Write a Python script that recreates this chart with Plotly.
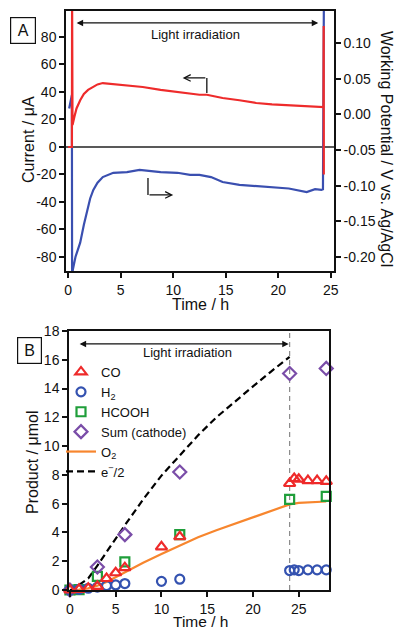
import plotly.graph_objects as go

W, H = 395, 629

# ---------------- Panel A data ----------------
cur_t = [0, 0.36, 0.38, 0.42, 0.6, 0.8, 1.15, 1.5, 1.9, 2.4, 2.8, 3.3, 4.3, 5.6, 7.1, 8.8,
         10.4, 12.5, 13.2, 14.7, 16.3, 17.9, 19.4, 21.0, 22.7, 24.2, 24.3, 24.32, 24.33]
cur_v = [0, 0, 110, 16, 22, 28, 34, 38.5, 41.5, 43.6, 45.5, 46.5, 45.8, 45, 43.6, 41.5,
         40, 38, 38, 35.6, 34, 32, 31, 30.5, 29.8, 29, 29, 88, -20]
pot_t = [0.1, 0.2, 0.3, 0.36, 0.38, 0.45, 0.7, 1.15, 1.5, 1.8, 2.1, 2.4, 2.8, 3.3, 4.3,
         5.6, 6.8, 8.8, 10.4, 11.6, 12.5, 13.6, 14.7, 16.3, 17.9, 19.4, 21.0, 22.7, 23.5,
         24.1, 24.25, 24.35]
pot_v = [0.008, 0.018, 0.025, 0.027, -0.25, -0.218, -0.2, -0.18, -0.155, -0.134, -0.118,
         -0.106, -0.096, -0.088, -0.082, -0.081, -0.078, -0.081, -0.082, -0.085, -0.085,
         -0.088, -0.095, -0.099, -0.101, -0.103, -0.104, -0.109, -0.105, -0.106, -0.105, 0.2]

a_xticks = [0, 5, 10, 15, 20, 25]
a_cur_ticks = [-80, -60, -40, -20, 0, 20, 40, 60, 80]
a_cur_text = ["-80", "-60", "-40", "-20", "0", "20", "40", "60", "80"]
a_pot_ticks = [-0.20, -0.15, -0.10, -0.05, 0.00, 0.05, 0.10]
a_pot_text = ["-0.20", "-0.15", "-0.10", "-0.05", "0.00", "0.05", "0.10"]

# ---------------- Panel B data ----------------
co_t = [0, 1, 2, 3, 4, 5, 6, 10, 12, 24, 24.5, 25, 26, 27, 28]
co_v = [0, 0.05, 0.12, 0.25, 0.8, 1.2, 1.55, 3.0, 3.7, 7.4, 7.75, 7.7, 7.6, 7.6, 7.55]
h2_t = [0, 1, 2, 3, 4, 5, 6, 10, 12, 24, 24.5, 25, 26, 27, 28]
h2_v = [0, 0.05, 0.12, 0.2, 0.3, 0.35, 0.45, 0.6, 0.75, 1.35, 1.4, 1.35, 1.4, 1.4, 1.4]
hcooh_t = [0, 1, 3, 6, 12, 24, 28]
hcooh_v = [0, 0.03, 0.95, 1.95, 3.85, 6.3, 6.5]
sum_t = [0, 3, 6, 12, 24, 28]
sum_v = [0, 1.6, 3.85, 8.2, 15.05, 15.4]
o2_t = [0, 1, 2, 3, 4, 5, 6, 8, 10, 12, 14, 16, 18, 20, 22, 24, 25, 26, 27, 28]
o2_v = [0, 0.03, 0.12, 0.3, 0.55, 0.9, 1.25, 1.9, 2.5, 3.1, 3.67, 4.15, 4.6, 5.0, 5.5,
        5.95, 6.05, 6.1, 6.13, 6.15]
e_t = [0, 0.5, 1, 2, 3, 4, 5, 6, 7, 8, 10, 12, 14, 16, 18, 20, 22, 24]
e_v = [0, 0.05, 0.35, 0.8, 1.7, 2.65, 3.6, 4.5, 5.4, 6.3, 7.95, 9.35, 10.75, 12.0, 13.1,
       14.15, 15.2, 16.2]
b_xticks = [0, 5, 10, 15, 20, 25]
b_yticks = [0, 2, 4, 6, 8, 10, 12, 14, 16, 18]

FONT = "Liberation Sans, Arial, Helvetica, sans-serif"
RED_A = "#ee2b2b"
BLUE_A = "#3a4fb0"
RED = "#ee2a2a"
BLUE = "#3452b0"
GREEN = "#1f9e3a"
PURPLE = "#7a4da8"
ORANGE = "#f7862e"
INK = "#111"

fig = go.Figure()

# Panel A: potential (main, right) first, current (overlay, left) on top
fig.add_trace(go.Scatter(x=pot_t, y=pot_v, mode="lines", line=dict(color=BLUE_A, width=2.2),
                         xaxis="x", yaxis="y", showlegend=False))
fig.add_trace(go.Scatter(x=cur_t, y=cur_v, mode="lines", line=dict(color=RED_A, width=2.2),
                         xaxis="x", yaxis="y3", showlegend=False))

# Panel B
mk = dict(size=9, line=dict(width=2.2))
fig.add_trace(go.Scatter(x=o2_t, y=o2_v, mode="lines", name="O<sub>2</sub>",
                         line=dict(color=ORANGE, width=2.2), xaxis="x2", yaxis="y2",
                         legendrank=5))
fig.add_trace(go.Scatter(x=e_t, y=e_v, mode="lines", name="e<sup>−</sup>/2",
                         line=dict(color="black", width=2.2, dash="7px,4px"),
                         xaxis="x2", yaxis="y2", legendrank=6))
fig.add_trace(go.Scatter(x=hcooh_t, y=hcooh_v, mode="markers", name="HCOOH",
                         marker=dict(symbol="square-open", color=GREEN, **mk),
                         xaxis="x2", yaxis="y2", cliponaxis=False, legendrank=3))
fig.add_trace(go.Scatter(x=sum_t, y=sum_v, mode="markers", name="Sum (cathode)",
                         marker=dict(symbol="diamond-open", color=PURPLE, size=10, line=dict(width=2.2)),
                         xaxis="x2", yaxis="y2", cliponaxis=False, legendrank=4))
fig.add_trace(go.Scatter(x=h2_t, y=h2_v, mode="markers", name="H<sub>2</sub>",
                         marker=dict(symbol="circle-open", color=BLUE, **mk),
                         xaxis="x2", yaxis="y2", cliponaxis=False, legendrank=2))
fig.add_trace(go.Scatter(x=co_t, y=co_v, mode="markers", name="CO",
                         marker=dict(symbol="triangle-up-open", color=RED, size=10, line=dict(width=2.2)),
                         xaxis="x2", yaxis="y2", cliponaxis=False, legendrank=1))

ax_common = dict(showline=True, linecolor=INK, linewidth=1.5, ticks="outside",
                 ticklen=5, tickwidth=1.5, tickcolor=INK, showgrid=False, zeroline=False,
                 automargin=False, tickfont=dict(family=FONT, size=14, color=INK))

fig.update_layout(
    width=W, height=H, margin=dict(l=0, r=0, t=0, b=0, autoexpand=False),
    paper_bgcolor="white", plot_bgcolor="white",
    font=dict(family=FONT, size=14, color=INK),
    xaxis=dict(domain=[66 / W, 334 / W], anchor="y", range=[-0.2, 25.3],
               tickvals=a_xticks, mirror=True, **ax_common),
    yaxis=dict(domain=[1 - 271 / H, 1 - 11 / H], anchor="x", side="right",
               range=[-0.2197, 0.1448], tickvals=a_pot_ticks, ticktext=a_pot_text, **ax_common),
    yaxis3=dict(overlaying="y", anchor="x", side="left", range=[-90.2, 98.9],
                tickvals=a_cur_ticks, ticktext=a_cur_text, **ax_common),
    xaxis2=dict(domain=[69 / W, 329 / W], anchor="y2", range=[-0.1, 28.3],
                tickvals=b_xticks, mirror=True, **ax_common),
    yaxis2=dict(domain=[1 - 590 / H, 1 - 331 / H], anchor="x2", range=[0, 18],
                tickvals=b_yticks, mirror=True, **ax_common),
    legend=dict(x=61 / W, y=1 - 357 / H, xanchor="left", yanchor="top",
                bgcolor="rgba(0,0,0,0)", font=dict(family=FONT, size=13, color=INK),
                tracegroupgap=0, itemwidth=30),
)

shapes = [
    dict(type="line", xref="x domain", yref="y3", x0=0, x1=1, y0=0, y1=0,
         line=dict(color="#222", width=1.3), layer="below"),
    dict(type="line", xref="x2", yref="y2 domain", x0=24, x1=24, y0=0, y1=1,
         line=dict(color="#8a8a8a", width=1.2, dash="5px,4px"), layer="below"),
    dict(type="line", xref="x", yref="y3", x0=13.2, x1=13.2, y0=50.2, y1=39.3,
         line=dict(color=INK, width=1.3)),
    dict(type="line", xref="x", yref="y3", x0=7.6, x1=7.6, y0=-22.5, y1=-34.9,
         line=dict(color=INK, width=1.3)),
]
fig.update_layout(shapes=shapes)


def ptxt(x, y, text, size=16, angle=0, **kw):
    return dict(x=x / W, y=1 - y / H, xref="paper", yref="paper", text=text,
                textangle=angle, showarrow=False, xanchor="center", yanchor="middle",
                font=dict(family=FONT, size=size, color=INK), **kw)


anns = [
    dict(x=23.8, y=90.2, ax=0.67, ay=90.2, xref="x", yref="y3", axref="x", ayref="y3",
         text="", showarrow=True, arrowhead=2, arrowside="end+start", arrowsize=1,
         arrowwidth=1.3, arrowcolor=INK),
    dict(x=12.1, y=81.5, xref="x", yref="y3", text="Light irradiation", showarrow=False,
         xanchor="center", yanchor="middle", font=dict(family=FONT, size=13, color=INK)),
    dict(x=23.9, y=17.1, ax=0.9, ay=17.1, xref="x2", yref="y2", axref="x2", ayref="y2",
         text="", showarrow=True, arrowhead=2, arrowside="end+start", arrowsize=1,
         arrowwidth=1.3, arrowcolor=INK),
    dict(x=12.8, y=16.5, xref="x2", yref="y2", text="Light irradiation", showarrow=False,
         xanchor="center", yanchor="middle", font=dict(family=FONT, size=13, color=INK)),
    dict(x=10.9, y=50.2, ax=13.2, ay=50.2, xref="x", yref="y3", axref="x", ayref="y3",
         text="", showarrow=True, arrowhead=5, arrowsize=1, arrowwidth=1.3, arrowcolor=INK),
    dict(x=10.0, y=-34.9, ax=7.6, ay=-34.9, xref="x", yref="y3", axref="x", ayref="y3",
         text="", showarrow=True, arrowhead=5, arrowsize=1, arrowwidth=1.3, arrowcolor=INK),
    ptxt(22.5, 30.5, "A", bordercolor=INK, borderwidth=1.2, borderpad=3, width=18, height=19),
    ptxt(29, 350.5, "B", bordercolor=INK, borderwidth=1.2, borderpad=3, width=17, height=19),
    ptxt(28, 140, "Current / μA", angle=-90),
    ptxt(386, 149, "Working Potential / V vs. Ag/AgCl", angle=90),
    ptxt(200, 304, "Time / h"),
    ptxt(32, 463, "Product / μmol", angle=-90),
    ptxt(200, 621.5, "Time / h", size=15.5),
]
fig.update_layout(annotations=anns)

fig.write_html(
    "out.html",
    post_script="document.body.style.margin='0';document.body.style.padding='0';",
)
